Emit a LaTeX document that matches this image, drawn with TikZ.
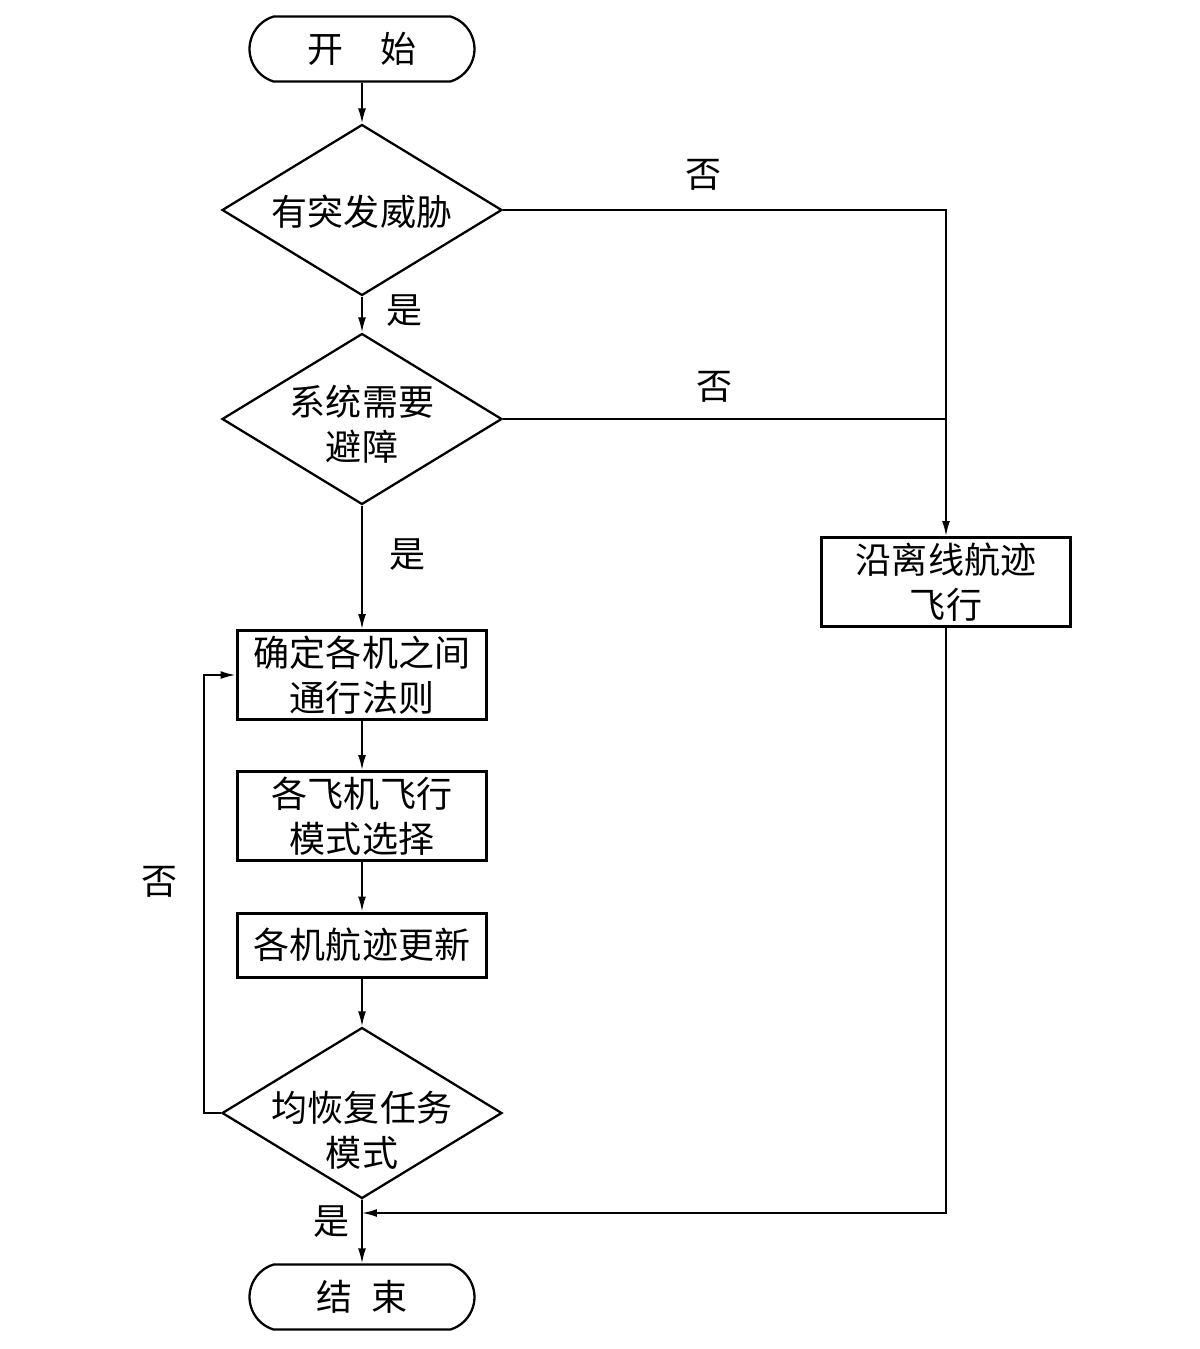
\documentclass[tikz,border=0pt]{standalone}
\usepackage{fontspec}
\setmainfont{Noto Sans CJK SC}
\usetikzlibrary{shapes.geometric,shapes.misc,arrows.meta}

\begin{document}
\begin{tikzpicture}[x=0.02cm, y=-0.02cm]
\tikzset{every node/.style={font=\fontsize{20.5pt}{25.5pt}\selectfont},
  endpoint/.style={draw, line width=1.3pt, rounded rectangle, rounded rectangle arc length=146, minimum width=4.5cm, minimum height=1.3cm, inner sep=0pt},
  decision/.style={draw, line width=1.3pt, diamond, minimum width=5.6cm, minimum height=3.42cm, inner sep=0pt},
  process/.style={draw, line width=1.7pt, rectangle, minimum width=5cm, minimum height=1.78cm, align=center, inner sep=0pt},
  flow/.style={line width=1pt, -{Latex[length=8.5pt,width=4.5pt]}},
  plain/.style={line width=1pt}}
\useasboundingbox (0,0) rectangle (1200,1349);
%\draw[help lines] (0,0) grid (1200,1349);
\node[endpoint] (start) at (362,49) {开\hspace{1em}始} ;
\node[decision, label={[align=center, yshift=-0.04cm]center:有突发威胁}] (d1) at (362,210) {} ;
\node[decision, label={[align=center, yshift=-0.1cm]center:系统需要\\避障}] (d2) at (362,419) {} ;
\node[process] (route) at (946,582) {沿离线航迹\\飞行} ;
\node[process] (rules) at (362,675) {确定各机之间\\通行法则} ;
\node[process] (mode) at (362,816) {各飞机飞行\\模式选择} ;
\node[process, minimum height=1.28cm] (update) at (362,945) {各机航迹更新} ;
\node[decision, label={[align=center, yshift=-0.34cm]center:均恢复任务\\模式}] (d3) at (362,1113) {} ;
\node[endpoint] (stop) at (362,1297) {结\hspace{0.5em}束} ;
\coordinate (join) at (362,1213);

\node (no1) at (703,175) {否} ;
\node (no2) at (715,387) {否} ;
\node (no3) at (160,882) {否} ;
\node (yes1) at (405,311) {是} ;
\node (yes2) at (408,555) {是} ;
\node (yes3) at (332,1222) {是} ;

\draw[flow] (start) to (d1);
\draw[flow] (d1) to (d2);
\draw[flow] (d2) to (rules);
\draw[flow] (rules) to (mode);
\draw[flow] (mode) to (update);
\draw[flow] (update) to (d3);
\draw[flow] (d3) to (stop);
\draw[flow] (d1.east) -| (route);
\draw[plain] (d2.east) to (d2.east -| route);
\draw[flow] (d3.west) -- ++(-17,0) |- (rules.west);
\draw[flow] (route) |- (join);
\end{tikzpicture}
\end{document}
